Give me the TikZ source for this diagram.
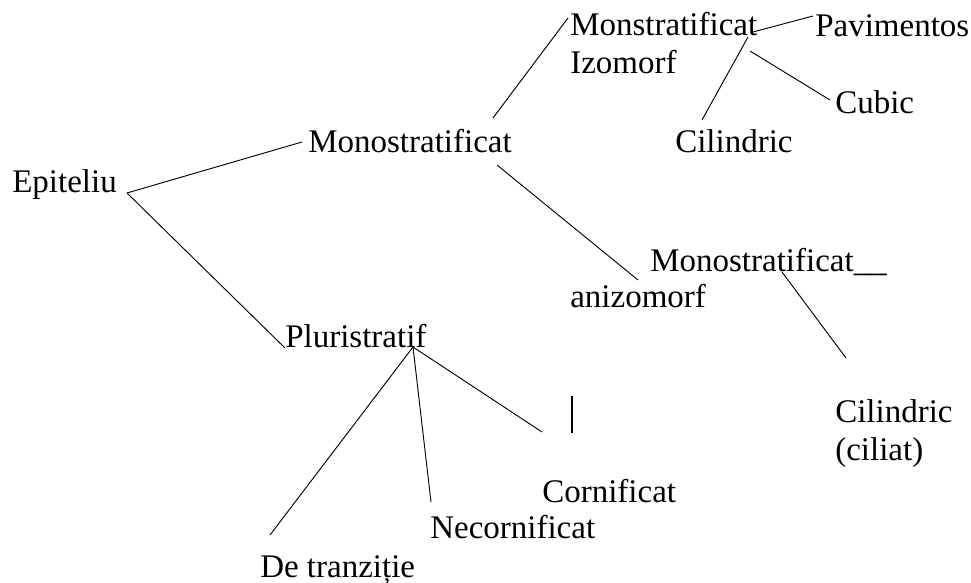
\documentclass[tikz,border=0pt]{standalone}
\usepackage{fontspec}
\setmainfont{Liberation Serif}
\usetikzlibrary{calc}

\begin{document}
\begin{tikzpicture}[x=0.75pt,y=-0.75pt,
  lbl/.style={anchor=base west,inner sep=0pt,align=left,
    font=\fontsize{24.75}{28.5}\selectfont},
  ramura/.style={line width=0.7pt}]
\useasboundingbox (0,0) rectangle (971,582);

\node[lbl] (epiteliu) at (12,192) {Epiteliu};
\node[lbl] (mono) at (308,152) {Monostratificat};
\node[lbl] (pluri) at (285,347) {Pluristratif};

% base of a two-line node is its last line
\node[lbl] (izo) at (570,73) {Monstratificat\\Izomorf};
\node[lbl] (pavim) at (815,36) {Pavimentos};
\node[lbl] (cubic) at (835,113) {Cubic};
\node[lbl] (cilA) at (675,152) {Cilindric};

\node[lbl] (aniz) at (650,271) {Monostratificat\_\_};
\node[lbl] (anizB) at (570,307) {anizomorf};
\node[lbl] (cilB) at (835,460) {Cilindric\\(ciliat)};

\node[lbl] (corn) at (542,502) {Cornificat};
\node[lbl] (necorn) at (430,538) {Necornificat};
\node[lbl] (tranz) at (260,577) {De tranziție};

\draw[ramura] ($(epiteliu.base west)+(115,1)$) -- ($(mono.base west)+(-6,-10)$);
\draw[ramura] ($(epiteliu.base west)+(115,1)$) -- ($(pluri.base west)+(0,1)$);

\draw[ramura] ($(mono.base west)+(185,-34)$) -- ($(izo.base west)+(-2,-55)$);
\draw[ramura] ($(mono.base west)+(189,13)$) -- ($(aniz.base west)+(-12,9)$);

\draw[ramura] ($(izo.base west)+(183,-41)$) -- ($(pavim.base west)+(-2,-20)$);
\draw[ramura] ($(izo.base west)+(178,-36)$) -- ($(cilA.base west)+(27,-32)$);
\draw[ramura] ($(izo.base west)+(180,-22)$) -- ($(cubic.base west)+(-5,-13)$);

\draw[ramura] ($(aniz.base west)+(132,1)$) -- ($(cilB.base west)+(11,-102)$);

\draw[ramura] ($(pluri.base west)+(128,0)$) -- ($(tranz.base west)+(10,-42)$);
\draw[ramura] ($(pluri.base west)+(128,0)$) -- ($(necorn.base west)+(1,-36)$);
\draw[ramura] ($(pluri.base west)+(128,0)$) -- ($(corn.base west)+(0,-70)$);

\draw[line width=1.6pt] (572,396) -- (572,433);
\end{tikzpicture}
\end{document}
